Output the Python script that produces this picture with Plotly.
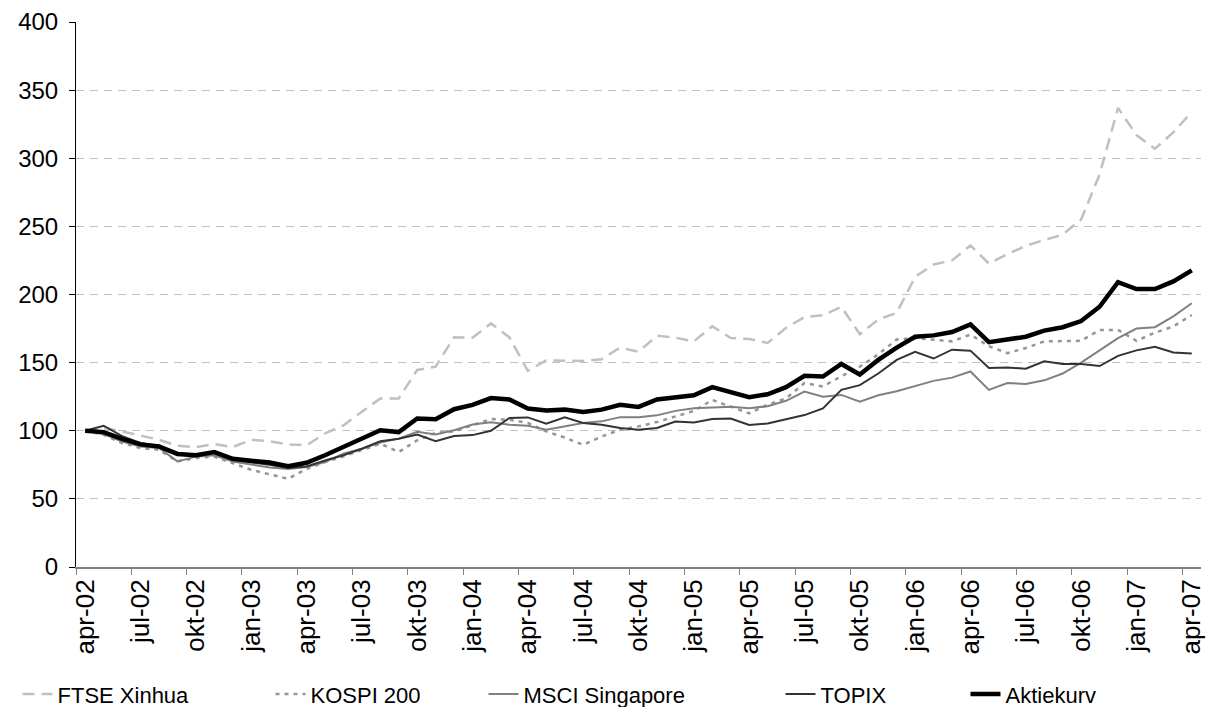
import plotly.graph_objects as go

months = ["apr", "maj", "jun", "jul", "aug", "sep", "okt", "nov", "dec", "jan", "feb", "mar"]
categories = []
year = 2
for i in range(61):
    m = months[i % 12]
    if m == "jan":
        year += 1
    categories.append(f"{m}-{year:02d}")

ftse = [100, 102, 99.5, 96.6, 93.4, 89, 88, 90.2, 88, 93.4, 92.2, 90, 89.3, 98, 104,
        114, 123.7, 123.7, 144.6, 147, 168.7, 168.3, 178.8, 168.5, 144, 151.7, 151.2, 151.2, 152.5, 161,
        158, 169.7, 168.3, 165.6, 176.7, 168, 167.4, 164.4, 175.5, 183.4, 184.8, 191, 170.8, 181.6, 186.5,
        213, 222, 225, 236, 222.7, 229.6, 235.7, 240, 244, 255, 288, 337, 317, 307, 319, 334]
kospi = [100, 97, 91, 87.3, 86, 77.5, 80, 81, 76.2, 71.3, 68, 64.7, 72, 77, 81.2,
         85.6, 90.5, 84.4, 93, 98.4, 99.5, 104, 108.6, 108.1, 105.7, 99.5, 95, 89.7, 95.8, 100.7,
         103.2, 106.4, 110.3, 114.5, 122.6, 117.7, 112.8, 119, 123.8, 135, 132.5, 140, 147, 156, 167,
         168, 167, 165.6, 170.6, 162, 157, 160.7, 165.6, 166, 166, 174, 174, 166, 172, 176.5, 185]
msci = [100, 97.5, 92, 88.5, 87.3, 77.5, 81, 82, 77.5, 75, 73, 72, 73.3, 77, 83.2,
        86.8, 91.3, 94.2, 99.3, 97.3, 100.4, 104.6, 106.2, 104.4, 103.7, 100.7, 103.2, 105.7, 106.9, 110,
        110, 111.3, 114.6, 116.5, 117, 117.7, 116.5, 118, 122, 128.8, 125, 126.3, 121.4, 126, 129,
        133, 136.6, 139, 143.5, 130, 135, 134.4, 137, 142, 150, 159, 168, 175, 176, 184, 193.6]
topix = [100, 103.7, 96, 91, 89, 83.6, 82.4, 84.8, 78.7, 77, 75, 72.6, 73.8, 78.2, 82,
         86.8, 92.3, 94.2, 97.2, 92.3, 96.2, 96.8, 100, 109.4, 109.8, 105.2, 109.8, 105.7, 104.4, 102,
         100.7, 102, 106.7, 106, 108.6, 109, 104.2, 105.4, 108.6, 111.5, 116.4, 130, 133.5, 142, 152,
         158, 153, 159.5, 158.8, 146, 146.5, 145.5, 151, 149, 149, 147.5, 155, 159, 161.6, 157.5, 156.7]
aktiekurv = [100, 99, 94, 90, 88.5, 83, 82, 84.3, 79.4, 78.2, 76.7, 74, 76.5, 82, 88,
             94.2, 100.4, 99, 109, 108.5, 115.8, 119, 124, 123, 116.3, 114.8, 115.5, 113.8, 115.5, 119,
             117.5, 123, 124.5, 126, 132, 128, 124.6, 126.8, 132, 140.3, 139.8, 149, 141.3, 152, 161,
             169, 170, 172.5, 178, 165, 167, 169, 173.5, 176, 180.5, 191, 209, 204, 204, 209.6, 217.7]

series = [
    ("FTSE Xinhua", ftse, dict(color="#c0c0c0", width=2.5, dash="12px,7px"), 208),
    ("KOSPI 200", kospi, dict(color="#969696", width=2.5, dash="4px,5px"), 168),
    ("MSCI Singapore", msci, dict(color="#808080", width=2), 252),
    ("TOPIX", topix, dict(color="#333333", width=2), 140),
    ("Aktiekurv", aktiekurv, dict(color="#000000", width=4.5), 140),
]

FONT = "Liberation Sans, Arial, sans-serif"

fig = go.Figure()
for name, vals, line, lw in series:
    fig.add_trace(go.Scatter(x=categories, y=vals, mode="lines", name=name, line=line,
                             legendwidth=lw))

fig.update_layout(
    width=1207, height=699,
    margin=dict(l=68, r=14, t=14, b=140, autoexpand=False),
    paper_bgcolor="white", plot_bgcolor="white",
    font=dict(family=FONT, size=22, color="#000000"),
    showlegend=True,
    legend=dict(orientation="h", x=-0.052, xanchor="left", y=-0.272, yanchor="bottom",
                font=dict(size=22), itemwidth=30, tracegroupgap=0),
)
fig.update_xaxes(
    type="category", range=[-0.5, 60.5], automargin=False,
    tickmode="linear", tick0=0, dtick=3, tickson="boundaries",
    tickangle=-90, ticks="outside", ticklen=6, tickcolor="#808080",
    showline=True, linecolor="#808080", linewidth=2,
    showgrid=False, zeroline=False,
    tickfont=dict(size=26, family=FONT),
)
fig.update_yaxes(
    range=[0, 400], tickmode="linear", tick0=0, dtick=50, automargin=False,
    ticks="outside", ticklen=6, tickcolor="#000000", ticklabelstandoff=6,
    showline=True, linecolor="#000000", linewidth=1,
    showgrid=True, gridcolor="#c0c0c0", griddash="8px,6px", gridwidth=1,
    zeroline=False, tickfont=dict(size=24, family=FONT),
)
fig.write_html("out.html")
